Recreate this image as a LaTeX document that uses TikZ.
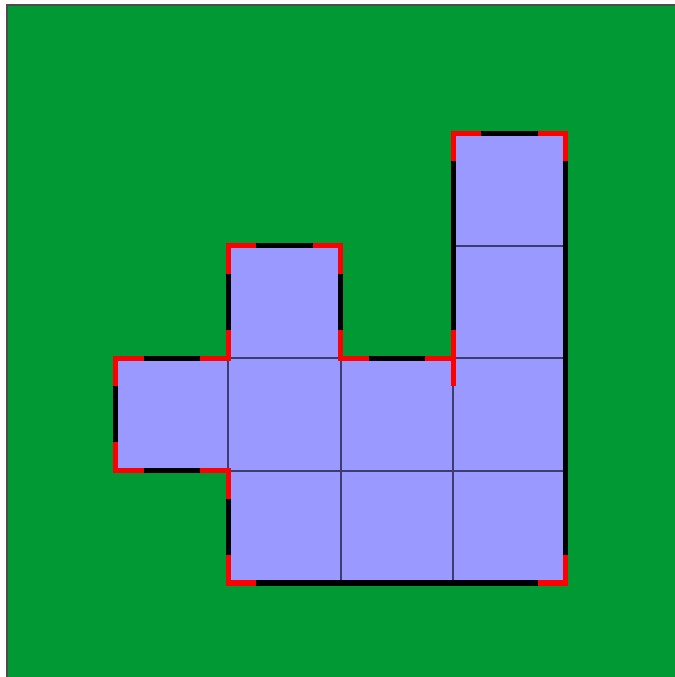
\documentclass[tikz,border=0pt]{standalone}
\usepackage{tikz}
\definecolor{fieldgreen}{RGB}{0,153,51}
\definecolor{tilefill}{RGB}{153,153,255}
\definecolor{tileline}{RGB}{60,60,110}

\begin{document}
\begin{tikzpicture}[
        line join=miter,
        tile/.style={fill=tilefill, draw=tileline, line width=0.5pt},
        outline/.style={draw=black, line width=1.3pt},
        corner/.style={draw=red, line width=1.3pt}
    ]
        \useasboundingbox (0,0) rectangle (6,6.018);
        % background
        \fill[fieldgreen] (0.062,0) rectangle (6,5.973);
        \draw[black!70, line width=0.3pt] (0.062,0) |- (6,5.973);

        \begin{scope}[shift={(1.03,0.835)}]
            % unit squares
            \foreach \c/\r in {1/0, 2/0, 3/0, 0/1, 1/1, 2/1, 3/1, 1/2, 3/2, 3/3}
                \draw[tile] (\c,\r) rectangle ++(1,1);

            % border of the shape
            \draw[outline] (1,0) -- (4,0) -- (4,4) -- (3,4) -- (3,2) -- (2,2)
                -- (2,3) -- (1,3) -- (1,2) -- (0,2) -- (0,1) -- (1,1) -- cycle;

            % corners
            \foreach \x/\y/\dx/\dy in {1/0/1/1, 4/0/-1/1, 4/4/-1/-1, 3/4/1/-1,
                    3/2/-1/1, 2/2/1/1, 2/3/-1/-1, 1/3/1/-1, 1/2/-1/1,
                    0/2/1/-1, 0/1/1/1, 1/1/-1/-1}
                \draw[corner] (\x,\y+0.25*\dy) -- (\x,\y) -- (\x+0.25*\dx,\y);
            \draw[corner] (3,2) -- (3,1.75);
        \end{scope}
    \end{tikzpicture}
\end{document}
